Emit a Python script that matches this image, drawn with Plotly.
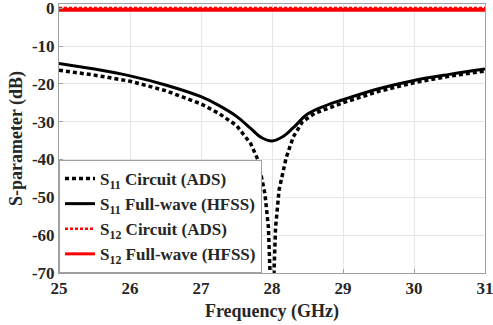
import plotly.graph_objects as go

# S11 circuit (ADS) - dotted black
freq_s11_ads = [25.0, 25.5, 26.0, 26.5, 27.0, 27.25, 27.5, 27.7, 27.8, 27.9, 27.95, 28.0,
                28.05, 28.1, 28.2, 28.3, 28.43, 28.6, 29.0, 29.5, 30.0, 30.5, 31.0]
s11_ads = [-16.4, -17.7, -19.3, -21.8, -25.3, -27.8, -31.0, -35.8, -40.0, -49.0, -58.0, -85.0,
           -58.0, -48.0, -39.5, -34.0, -30.0, -27.8, -25.0, -22.0, -19.7, -18.0, -16.6]

# S11 full-wave (HFSS) - solid black
freq_s11_hfss = [25.0, 25.5, 26.0, 26.5, 27.0, 27.25, 27.5, 27.7, 27.85, 28.0, 28.15, 28.3,
                 28.5, 28.75, 29.0, 29.5, 30.0, 30.5, 31.0]
s11_hfss = [-14.6, -16.1, -17.9, -20.3, -23.4, -25.7, -28.6, -31.8, -34.2, -35.1, -34.0, -31.6,
            -28.0, -25.8, -24.2, -21.3, -19.1, -17.5, -16.1]

# S12
freq_s12 = [25.0, 26.0, 27.0, 28.0, 29.0, 30.0, 31.0]
s12_ads = [0.05, 0.05, 0.05, 0.05, 0.05, 0.05, 0.05]
s12_hfss = [-0.45, -0.45, -0.45, -0.45, -0.45, -0.45, -0.45]

x_ticks = [25, 26, 27, 28, 29, 30, 31]
y_ticks = [0, -10, -20, -30, -40, -50, -60, -70]

FONT = "Liberation Serif"

fig = go.Figure()
fig.add_trace(go.Scatter(x=freq_s11_ads, y=s11_ads, mode="lines",
                         line=dict(color="black", width=3.5, dash="4px,3px"),
                         name="<b>S<sub>11</sub> Circuit (ADS)</b>"))
fig.add_trace(go.Scatter(x=freq_s11_hfss, y=s11_hfss, mode="lines", line_shape="spline",
                         line=dict(color="black", width=3),
                         name="<b>S<sub>11</sub> Full-wave (HFSS)</b>"))
fig.add_trace(go.Scatter(x=freq_s12, y=s12_hfss, mode="lines",
                         line=dict(color="#ff0000", width=4),
                         name="S12 HFSS", showlegend=False))
fig.add_trace(go.Scatter(x=freq_s12, y=s12_ads, mode="lines",
                         line=dict(color="#ff0000", width=2.5, dash="3px,2px"),
                         name="<b>S<sub>12</sub> Circuit (ADS)</b>"))
fig.add_trace(go.Scatter(x=[None], y=[None], mode="lines",
                         line=dict(color="#ff0000", width=3),
                         name="<b>S<sub>12</sub> Full-wave (HFSS)</b>"))

axis_common = dict(showgrid=True, gridcolor="#e6e6e6", gridwidth=1,
                   showline=True, linecolor="#a0a0a0", linewidth=1, mirror=True,
                   ticks="inside", ticklen=4, tickcolor="#a0a0a0", zeroline=False,
                   automargin=False, ticklabeloverflow="allow",
                   tickfont=dict(family=FONT, size=17, color="#262626"))

fig.update_layout(
    width=493, height=325,
    margin=dict(l=59, r=8, t=4, b=52, autoexpand=False),
    paper_bgcolor="white", plot_bgcolor="white",
    font=dict(family=FONT, color="#262626"),
    xaxis=dict(range=[25, 31], tickvals=x_ticks,
               ticktext=["<b>%d</b>" % v for v in x_ticks],
               title=dict(text="<b>Frequency (GHz)</b>", standoff=6,
                          font=dict(family=FONT, size=18, color="#262626")),
               **axis_common),
    yaxis=dict(range=[-70, 1.1], tickvals=y_ticks,
               ticktext=["<b>%d</b>" % v for v in y_ticks],
               title=dict(text="<b>S-parameter (dB)</b>", standoff=4,
                          font=dict(family=FONT, size=18, color="#262626")),
               **axis_common),
    legend=dict(x=0, y=0, xanchor="left", yanchor="bottom",
                bgcolor="white", bordercolor="#a0a0a0", borderwidth=1,
                font=dict(family=FONT, size=17, color="#262626"),
                itemwidth=30, tracegroupgap=0),
    showlegend=True,
)

fig.write_html("out.html", config={"displayModeBar": False},
               post_script="document.body.style.margin='0';document.body.style.padding='0';")
